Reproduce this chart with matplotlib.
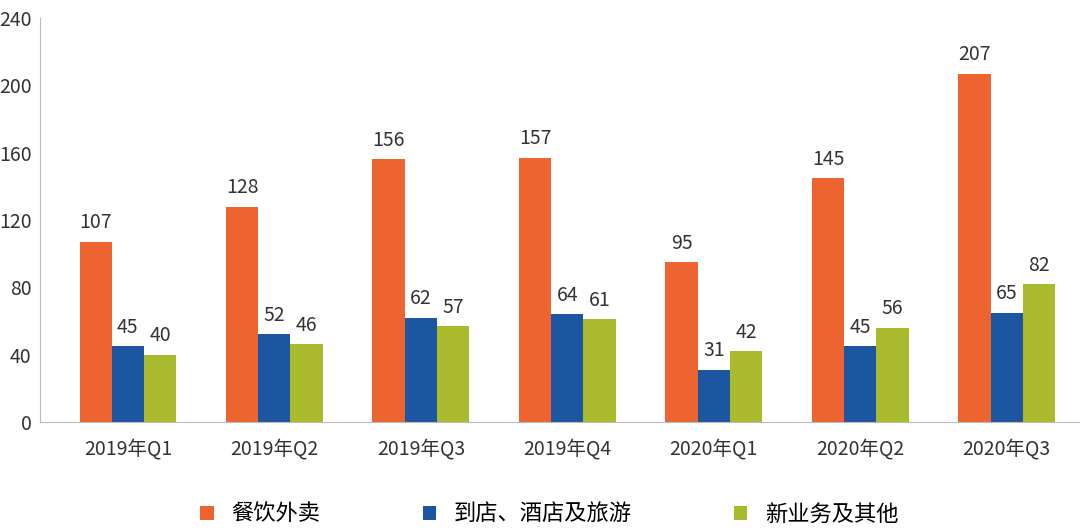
import matplotlib.pyplot as plt
import numpy as np

plt.rcParams['font.family'] = ['Noto Sans CJK SC', 'DejaVu Sans']

quarters = ["2019年Q1", "2019年Q2", "2019年Q3", "2019年Q4", "2020年Q1", "2020年Q2", "2020年Q3"]
food = [107, 128, 156, 157, 95, 145, 207]
hotel = [45, 52, 62, 64, 31, 45, 65]
other = [40, 46, 57, 61, 42, 56, 82]
names = ["餐饮外卖", "到店、酒店及旅游", "新业务及其他"]
colors = ["#EE6430", "#1D56A0", "#A9BA2C"]

fig, ax = plt.subplots(figsize=(10.8, 5.32), dpi=100)
fig.subplots_adjust(left=0.037, right=1.0, top=0.966, bottom=0.207)

x = np.arange(len(quarters))
w = 0.22
for i, (vals, name, c) in enumerate(zip([food, hotel, other], names, colors)):
    bars = ax.bar(x + (i - 1) * w, vals, w, color=c, label=name)
    for b, v in zip(bars, vals):
        ax.text(b.get_x() + b.get_width() / 2, v + 5, str(v),
                ha="center", va="bottom", fontsize=14, color="#333333")

ax.set_ylim(0, 240)
ax.set_yticks(range(0, 241, 40))
ax.set_xlim(-0.6, len(quarters) - 0.5)
ax.set_xticks(x)
ax.set_xticklabels(quarters)
ax.tick_params(labelsize=14, colors="#333333", length=0)
ax.tick_params(axis="y", pad=6)
ax.tick_params(axis="x", pad=12)
for s in ["top", "right"]:
    ax.spines[s].set_visible(False)
ax.spines["left"].set_color("#BBBBBB")
ax.spines["bottom"].set_color("#BBBBBB")

ax.legend(loc="upper center", bbox_to_anchor=(0.49, -0.15), ncol=3, frameon=False,
          fontsize=16, handlelength=0.6, handleheight=0.6, columnspacing=4.6)

fig.savefig("out.png", dpi=100)
